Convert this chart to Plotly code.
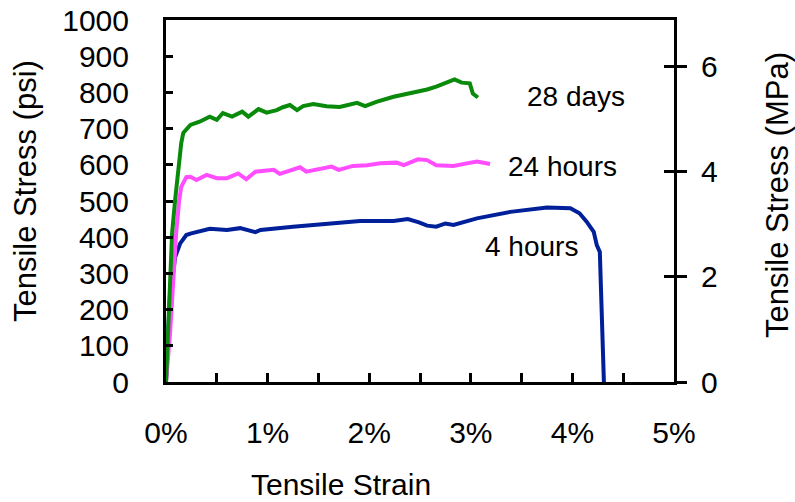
import plotly.graph_objects as go

# ---- data (strain in %, stress in psi) ----
strain_28d = [0.0, 0.03, 0.06, 0.09, 0.12, 0.15, 0.17, 0.24, 0.33, 0.43, 0.50, 0.56, 0.65, 0.75, 0.81, 0.91,
              0.99, 1.09, 1.15, 1.22, 1.29, 1.35, 1.45, 1.58, 1.71, 1.88, 1.96, 2.07, 2.24, 2.40,
              2.57, 2.66, 2.76, 2.84, 2.91, 2.99, 3.02, 3.07]
stress_28d = [0, 226, 411, 503, 594, 660, 688, 710, 719, 733, 724, 743, 733, 747, 733, 754,
              744, 751, 759, 765, 751, 762, 768, 762, 760, 771, 762, 774, 788, 797,
              808, 816, 827, 836, 827, 825, 797, 786]

strain_24h = [0.0, 0.02, 0.04, 0.07, 0.10, 0.13, 0.15, 0.20, 0.24, 0.30, 0.40, 0.50, 0.60, 0.71, 0.79, 0.88,
              0.99, 1.06, 1.12, 1.25, 1.32, 1.38, 1.52, 1.63, 1.70, 1.84, 1.98, 2.11, 2.27, 2.34,
              2.48, 2.57, 2.66, 2.76, 2.83, 2.96, 3.06, 3.19]
stress_24h = [0, 60, 135, 273, 411, 503, 539, 566, 567, 558, 572, 563, 563, 576, 560, 581,
              584, 586, 575, 588, 593, 581, 590, 595, 586, 597, 599, 604, 606, 599,
              615, 613, 599, 599, 597, 604, 609, 602]

strain_4h = [0.0, 0.02, 0.04, 0.07, 0.09, 0.14, 0.20, 0.24, 0.43, 0.60, 0.73, 0.88, 0.93, 1.25, 1.58,
             1.91, 2.24, 2.38, 2.49, 2.57, 2.66, 2.75, 2.83, 3.06, 3.39, 3.75, 3.98, 4.07, 4.14,
             4.21, 4.24, 4.27, 4.31]
stress_4h = [0, 135, 246, 301, 345, 383, 406, 410, 423, 420, 425, 414, 420, 429, 438,
             445, 445, 450, 441, 432, 429, 438, 434, 452, 470, 482, 480, 466, 443,
             415, 378, 359, 0]

labels = ["28 days", "24 hours", "4 hours"]
label_x = [4.04, 3.9, 3.6]      # strain %
label_y = [790, 595, 375]       # psi

x_tickvals = [0, 0.5, 1, 1.5, 2, 2.5, 3, 3.5, 4, 4.5, 5]
x_ticktext = ["0%", "", "1%", "", "2%", "", "3%", "", "4%", "", "5%"]
y_tickvals = [0, 100, 200, 300, 400, 500, 600, 700, 800, 900, 1000]
mpa_tickvals = [0, 2, 4, 6]
PSI_PER_MPA = 145.038

FONT = "Liberation Sans, Arial, sans-serif"
TICK_SIZE = 30

fig = go.Figure()
fig.add_trace(go.Scatter(x=strain_4h, y=stress_4h, mode="lines",
                         line=dict(color="#00209a", width=4), showlegend=False))
fig.add_trace(go.Scatter(x=strain_24h, y=stress_24h, mode="lines",
                         line=dict(color="#ff4dff", width=4), showlegend=False))
fig.add_trace(go.Scatter(x=strain_28d, y=stress_28d, mode="lines",
                         line=dict(color="#0a8a0a", width=4), showlegend=False))

for t, xx, yy in zip(labels, label_x, label_y):
    fig.add_annotation(x=xx, y=yy, text=t, showarrow=False,
                       font=dict(family=FONT, size=28, color="black"),
                       xanchor="center", yanchor="middle")

# axis titles as annotations
fig.add_annotation(xref="paper", yref="paper", x=(26 - 166) / 508, y=(382 - 191) / 362,
                   xanchor="center", yanchor="middle",
                   text="Tensile Stress (psi)", textangle=-90, showarrow=False,
                   font=dict(family=FONT, size=31, color="black"))
fig.add_annotation(xref="paper", yref="paper", x=(777 - 166) / 508, y=(382 - 195) / 362,
                   xanchor="center", yanchor="middle",
                   text="Tensile Stress (MPa)", textangle=-90, showarrow=False,
                   font=dict(family=FONT, size=31, color="black"))
fig.add_annotation(xref="paper", yref="paper", x=(341 - 166) / 508, y=(382 - 484) / 362,
                   xanchor="center", yanchor="middle",
                   text="Tensile Strain", showarrow=False,
                   font=dict(family=FONT, size=30, color="black"))

# dummy traces to activate secondary axes
fig.add_trace(go.Scatter(x=[0], y=[0], yaxis="y2", mode="markers",
                         marker=dict(opacity=0), showlegend=False, hoverinfo="skip"))
fig.add_trace(go.Scatter(x=[0], y=[0], yaxis="y3", mode="markers",
                         marker=dict(opacity=0), showlegend=False, hoverinfo="skip"))

fig.update_layout(
    width=795, height=502,
    margin=dict(l=166, r=121, t=20, b=120),
    paper_bgcolor="white", plot_bgcolor="white",
    font=dict(family=FONT, size=TICK_SIZE, color="black"),
    xaxis=dict(range=[0, 5], tickvals=x_tickvals, ticktext=x_ticktext,
               ticks="inside", ticklen=9, tickwidth=3, tickcolor="black",
               showline=True, linewidth=3, linecolor="black", mirror=True,
               showgrid=False, zeroline=False, ticklabelstandoff=22,
               automargin=False, tickfont=dict(size=TICK_SIZE)),
    yaxis=dict(range=[0, 1000], tickvals=y_tickvals,
               ticks="inside", ticklen=7, tickwidth=3, tickcolor="black",
               showline=True, linewidth=3, linecolor="black",
               showgrid=False, zeroline=False, ticklabelstandoff=28,
               automargin=False, tickfont=dict(size=TICK_SIZE)),
    yaxis2=dict(range=[0, 1000 / PSI_PER_MPA], tickvals=mpa_tickvals, overlaying="y",
                side="right", anchor="x",
                ticks="outside", ticklen=10, tickwidth=3, tickcolor="black",
                showline=True, linewidth=3, linecolor="black",
                showgrid=False, zeroline=False, ticklabelstandoff=8,
                automargin=False, tickfont=dict(size=TICK_SIZE)),
    yaxis3=dict(range=[0, 1000 / PSI_PER_MPA], tickvals=mpa_tickvals, overlaying="y",
                side="right", anchor="x", showticklabels=False,
                ticks="inside", ticklen=10, tickwidth=3, tickcolor="black",
                showline=False, showgrid=False, zeroline=False, automargin=False),
)

fig.write_html("out.html")
